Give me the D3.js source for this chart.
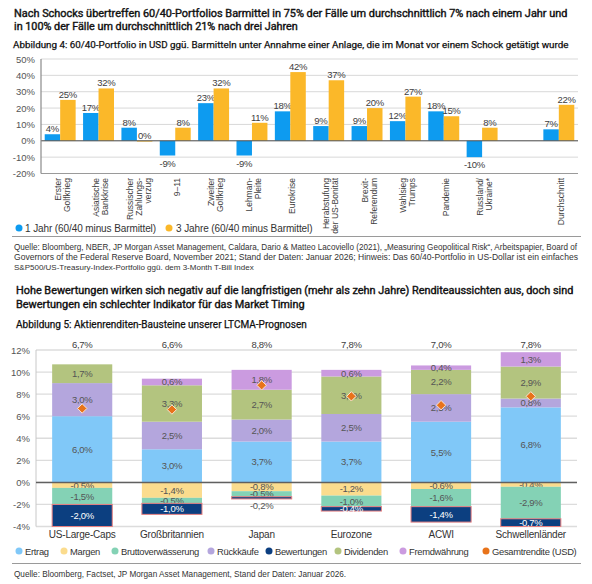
<!DOCTYPE html>
<html><head><meta charset="utf-8">
<script src="https://cdn.jsdelivr.net/npm/d3@7"></script>
<style>
body{margin:0;background:#fff}
svg{display:block}
text{font-family:"Liberation Sans",Arial,sans-serif}
.title text{font-family:Roboto,"Liberation Sans",sans-serif;font-weight:400;stroke:#111;stroke-width:0.4px}
</style>
</head><body><svg id="c" width="592" height="584"></svg>
<script>
// ---------- data: Abbildung 4 ----------
const shockCategories = ["Erster\nGolfkrieg","Asiatische\nBankkrise","Russischer\nZahlungs-\nverzug","9–11","Zweiter\nGolfkrieg","Lehman-\nPleite","Eurokrise","Herabstufung\nder US-Bonität","Brexit-\nReferendum","Wahlsieg\nTrumps","Pandemie","Russland/\nUkraine*","","Durchschnitt"];
const oneYear    = [4,17,8,-9,23,-9,18,9,9,12,18,-10,null,7];
const threeYears = [25,32,0,8,32,11,42,37,20,27,15,8,null,22];
const topTicks = [-20,-10,0,10,20,30,40,50];
const topSeries = ["1 Jahr (60/40 minus Barmittel)","3 Jahre (60/40 minus Barmittel)"];

// ---------- data: Abbildung 5 ----------
const regions = ["US-Large-Caps","Großbritannien","Japan","Eurozone","ACWI","Schwellenländer"];
const ertrag        = [6.0,3.0,3.7,3.7,5.5,6.8];
const margen        = [-0.5,-1.4,-0.8,-1.2,-0.6,-0.4];
const brutto        = [-1.5,-0.5,-0.5,-1.0,-1.6,-2.9];
const rueckkaeufe   = [3.0,2.5,2.0,2.5,2.5,0.8];
const bewertungen   = [-2.0,-1.0,-0.2,-0.4,-1.4,-0.7];
const dividenden    = [1.7,3.3,2.7,3.4,2.2,2.9];
const fremdwaehrung = [0,0.6,1.8,0.6,0.4,1.3];
const gesamtrendite = [6.7,6.6,8.8,7.8,7.0,7.8];
const bottomTicks = [-4,-2,0,2,4,6,8,10,12];
const componentNames = ["Ertrag","Margen","Bruttoverwässerung","Rückkäufe","Bewertungen","Dividenden","Fremdwährung"];
const componentValues = [ertrag,margen,brutto,rueckkaeufe,bewertungen,dividenden,fremdwaehrung];

// ---------- styles ----------
const C1 = "#0d9bf0", C3 = "#fbb829";
const compColors = {"Ertrag":"#80c8f8","Margen":"#fbdc8e","Bruttoverwässerung":"#84d2b5","Rückkäufe":"#b4a6dd","Bewertungen":"#0c3f80","Dividenden":"#b3c47f","Fremdwährung":"#cb9be0"};
const totalColor = "#e8731a";

const svg = d3.select("#c");
const de = v => v.toFixed(1).replace(".", ",") + "%";

// scale the font size so that the natural width equals w
function fitSize(sel, w){
  const fs = +sel.attr("font-size");
  const l = sel.node().getComputedTextLength();
  sel.attr("font-size", (fs*w/l).toFixed(2));
  return sel;
}

// ---------- titles ----------
const t1 = svg.append("g").attr("class","title").attr("fill","#111");
fitSize(t1.append("text").attr("x",14).attr("y",17).attr("font-size",12).text("Nach Schocks übertreffen 60/40-Portfolios Barmittel in 75% der Fälle um durchschnittlich 7% nach einem Jahr und"), 554);
fitSize(t1.append("text").attr("x",14).attr("y",30).attr("font-size",12).text("in 100% der Fälle um durchschnittlich 21% nach drei Jahren"), 284);
fitSize(t1.append("text").attr("x",13).attr("y",48).attr("font-size",10).attr("style","stroke-width:0.25px").text("Abbildung 4: 60/40-Portfolio in USD ggü. Barmitteln unter Annahme einer Anlage, die im Monat vor einem Schock getätigt wurde"), 556);

// ---------- top chart ----------
const xT = d3.scaleBand().domain(d3.range(shockCategories.length)).range([41,578]);
const xTi = d3.scaleBand().domain([0,1]).range([0,xT.bandwidth()]).paddingOuter(0.24);
const yT = d3.scaleLinear().domain([-20,50]).range([173.5,59]);

const gT = svg.append("g");
gT.selectAll("line.grid").data(topTicks).join("line")
  .attr("x1",41).attr("x2",578).attr("y1",d=>yT(d)).attr("y2",d=>yT(d))
  .attr("stroke",d=>d===-20?"#9a9a9a":"#d9d9d9").attr("stroke-width",d=>d===-20?1.2:1);
gT.selectAll("text.tick").data(topTicks).join("text")
  .attr("x",35).attr("y",d=>yT(d)+3.5).attr("text-anchor","end")
  .attr("font-size",9.5).attr("fill","#555").text(d=>d+"%");

const topData = shockCategories.map((c,i)=>({i, vals:[oneYear[i],threeYears[i]]}));
topData.forEach(d=>{
  d.vals.forEach((v,k)=>{
    if(v===null) return;
    const x0 = xT(d.i)+xTi(k), w = xTi.bandwidth();
    gT.append("rect").attr("x",x0).attr("width",w)
      .attr("y",yT(Math.max(v,0))).attr("height",Math.max(Math.abs(yT(v)-yT(0)),0.8))
      .attr("fill",k===0?C1:C3);
    gT.append("text").attr("x",x0+w/2)
      .attr("y",v>=0?yT(v)-2:yT(v)+11).attr("text-anchor","middle")
      .attr("font-size",9.5).attr("fill","#404040").attr("letter-spacing",-0.3).text(v+"%");
  });
});
gT.append("line").attr("x1",41).attr("x2",578).attr("y1",yT(0)).attr("y2",yT(0)).attr("stroke","#555").attr("stroke-width",1);
gT.append("line").attr("x1",41).attr("x2",41).attr("y1",yT(50)).attr("y2",yT(-20)).attr("stroke","#8a8a8a").attr("stroke-width",1.2);

// rotated category labels
shockCategories.forEach((c,i)=>{
  if(!c) return;
  const lines = c.split("\n");
  const g = gT.append("g").attr("transform",`translate(${xT(i)+xT.bandwidth()/2+2},178) rotate(-90)`);
  lines.forEach((l,j)=>{
    g.append("text").attr("x",0).attr("y",(j-(lines.length-1)/2)*9+3)
      .attr("text-anchor","end").attr("font-size",8.5).attr("fill","#404040").text(l);
  });
});

// top legend
[[19,25,C1,topSeries[0]],[169,176,C3,topSeries[1]]].forEach(([cx,tx,col,t])=>{
  gT.append("circle").attr("cx",cx).attr("cy",228).attr("r",3.5).attr("fill",col);
  gT.append("text").attr("x",tx).attr("y",231.5).attr("font-size",10).attr("fill","#333").attr("letter-spacing",-0.1).text(t);
});

svg.append("line").attr("x1",12).attr("x2",581).attr("y1",236.5).attr("y2",236.5).attr("stroke","#9a9a9a");
const src1 = svg.append("g").attr("fill","#333");
fitSize(src1.append("text").attr("x",14).attr("y",250).attr("font-size",8).text("Quelle: Bloomberg, NBER, JP Morgan Asset Management, Caldara, Dario & Matteo Lacoviello (2021), „Measuring Geopolitical Risk“, Arbeitspapier, Board of"), 564);
fitSize(src1.append("text").attr("x",14).attr("y",260).attr("font-size",8).text("Governors of the Federal Reserve Board, November 2021; Stand der Daten: Januar 2026; Hinweis: Das 60/40-Portfolio in US-Dollar ist ein einfaches"), 564);
src1.append("text").attr("x",14).attr("y",270).attr("font-size",8).text("S&P500/US-Treasury-Index-Portfolio ggü. dem 3-Month T-Bill Index");

// ---------- second titles ----------
const t2 = svg.append("g").attr("class","title").attr("fill","#111");
fitSize(t2.append("text").attr("x",16).attr("y",294).attr("font-size",12).text("Hohe Bewertungen wirken sich negativ auf die langfristigen (mehr als zehn Jahre) Renditeaussichten aus, doch sind"), 558);
fitSize(t2.append("text").attr("x",16).attr("y",308).attr("font-size",12).text("Bewertungen ein schlechter Indikator für das Market Timing"), 289);
fitSize(t2.append("text").attr("x",16).attr("y",328).attr("font-size",10).attr("style","stroke-width:0.25px").text("Abbildung 5: Aktienrenditen-Bausteine unserer LTCMA-Prognosen"), 291);

// ---------- bottom chart ----------
const xB = d3.scaleBand().domain(regions).range([36,577]).paddingInner(0.33).paddingOuter(0.18);
const yB = d3.scaleLinear().domain([-4,12]).range([526.5,350]);
const gB = svg.append("g");
gB.selectAll("line.grid").data(bottomTicks).join("line")
  .attr("x1",36).attr("x2",577).attr("y1",d=>yB(d)).attr("y2",d=>yB(d))
  .attr("stroke","#dcdcdc").attr("stroke-width",1.3);
gB.selectAll("text.tick").data(bottomTicks).join("text")
  .attr("x",30).attr("y",d=>yB(d)+3.5).attr("text-anchor","end")
  .attr("font-size",9.5).attr("fill","#555").text(d=>d+"%");
gB.append("line").attr("x1",36).attr("x2",36).attr("y1",yB(12)).attr("y2",yB(-4)).attr("stroke","#c8c8c8");

const rows = regions.map((r,i)=>{ const o={region:r}; componentNames.forEach((n,k)=>o[n]=componentValues[k][i]); return o; });
const stack = d3.stack().keys(componentNames).offset(d3.stackOffsetDiverging)(rows);
stack.forEach(s=>{
  const key = s.key;
  s.forEach((seg,i)=>{
    const v = componentValues[componentNames.indexOf(key)][i];
    if(!v) return;
    const x0 = xB(regions[i]), w = xB.bandwidth();
    const yTop = yB(Math.max(seg[0],seg[1])), yBot = yB(Math.min(seg[0],seg[1]));
    gB.append("rect").attr("x",x0).attr("y",yTop).attr("width",w).attr("height",yBot-yTop)
      .attr("fill",compColors[key])
      .attr("stroke",key==="Bewertungen"?"#e88080":"none").attr("stroke-width",1);
    const below = key==="Bewertungen" && v>-0.3;
    gB.append("text").attr("x",x0+w/2)
      .attr("y",below? yBot+10 : (yTop+yBot)/2+3.5)
      .attr("text-anchor","middle").attr("font-size",9.5).attr("letter-spacing",-0.3)
      .attr("fill",key==="Bewertungen" && !below ? "#fff" : "#555").text(de(v));
  });
});
gB.append("line").attr("x1",36).attr("x2",577).attr("y1",yB(0)).attr("y2",yB(0)).attr("stroke","#606060").attr("stroke-width",1.5);

// totals
regions.forEach((r,i)=>{
  const cx = xB(r)+xB.bandwidth()/2;
  gB.append("path").attr("d",d3.symbol(d3.symbolDiamond2,56)())
    .attr("transform",`translate(${cx},${yB(gesamtrendite[i])})`)
    .attr("fill",totalColor).attr("stroke","#fbe3cf").attr("stroke-width",1);
  gB.append("text").attr("x",cx).attr("y",348).attr("text-anchor","middle")
    .attr("font-size",9.5).attr("fill","#404040").attr("letter-spacing",-0.3).text(de(gesamtrendite[i]));
  gB.append("text").attr("x",cx).attr("y",538).attr("text-anchor","middle")
    .attr("font-size",10).attr("fill","#333").attr("letter-spacing",-0.2).text(r);
});

// bottom legend
const legItems = componentNames.map(n=>({name:n,color:compColors[n]})).concat([{name:"Gesamtrendite (USD)",color:totalColor}]);
const legX = [19,64,115,211,269,338,403,486];
legItems.forEach((d,i)=>{
  gB.append("circle").attr("cx",legX[i]).attr("cy",551).attr("r",3.5).attr("fill",d.color);
  gB.append("text").attr("x",legX[i]+6).attr("y",554.5).attr("font-size",9.4).attr("fill","#333").attr("letter-spacing",-0.3).text(d.name);
});

svg.append("line").attr("x1",12).attr("x2",581).attr("y1",563.5).attr("y2",563.5).attr("stroke","#9a9a9a");
svg.append("text").attr("x",14).attr("y",577).attr("font-size",8.2).attr("fill","#333")
  .text("Quelle: Bloomberg, Factset, JP Morgan Asset Management, Stand der Daten: Januar 2026.");
</script>
</body></html>
